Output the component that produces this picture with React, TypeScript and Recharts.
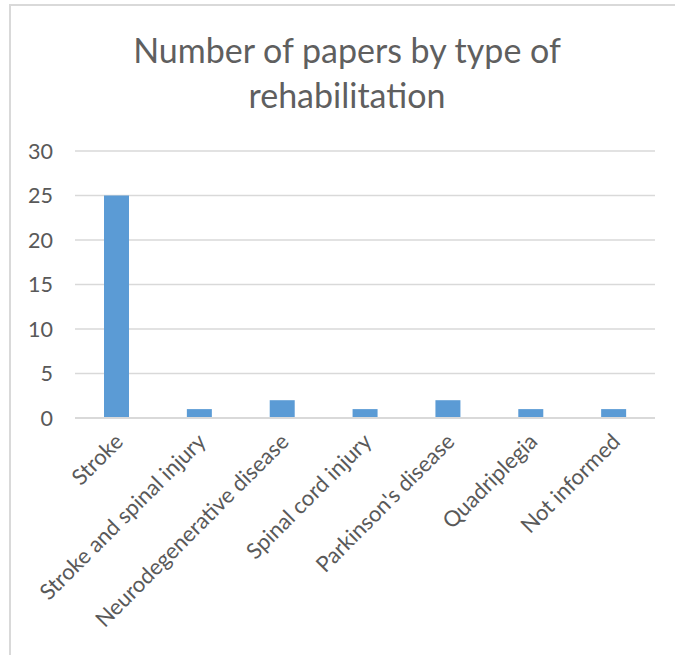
import React from 'react';
import { BarChart, Bar, XAxis, YAxis, CartesianGrid } from 'recharts';

const categories = [
  'Stroke',
  'Stroke and spinal injury',
  'Neurodegenerative disease',
  'Spinal cord injury',
  "Parkinson's disease",
  'Quadriplegia',
  'Not informed',
];
const papers = [25, 1, 2, 1, 2, 1, 1];
const yTicks = [0, 5, 10, 15, 20, 25, 30];
const titleLines = ['Number of papers by type of', 'rehabilitation'];

const data = categories.map((name, i) => ({ name, papers: papers[i] }));

const FONT = 'Lato, "Open Sans", sans-serif';
const TEXT = '#595959';

const RotatedTick = (props: any) => {
  const { x, y, payload } = props;
  return (
    <g transform={`translate(${x + 8},${y + 23}) rotate(-45)`}>
      <text x={0} y={0} textAnchor="end" fill={TEXT} fontSize={22} fontFamily={FONT}>
        {payload.value}
      </text>
    </g>
  );
};

const App: React.FC = () => {
  return (
    <div style={{ position: 'absolute', left: 0, top: 0, width: 675, height: 655, background: '#fff' }}>
      <div
        style={{
          position: 'absolute',
          left: 9,
          top: 4,
          right: 0,
          bottom: 0,
          borderTop: '2px solid #d9d9d9',
          borderLeft: '2px solid #d9d9d9',
        }}
      />
      <svg width={675} height={140} style={{ position: 'absolute', left: 0, top: 0 }}>
        {titleLines.map((line, i) => (
          <text key={i} x={347} y={63 + i * 45} textAnchor="middle" fill="#5f5f5f" fontSize={34} fontFamily={FONT}>
            {line}
          </text>
        ))}
      </svg>
      <div style={{ position: 'absolute', left: 0, top: 0 }}>
        <BarChart width={675} height={655} data={data} margin={{ top: 151, right: 20, bottom: 37, left: 0 }}>
          <CartesianGrid vertical={false} stroke="#d9d9d9" strokeWidth={1.5} />
          <XAxis
            dataKey="name"
            height={200}
            interval={0}
            tickLine={false}
            tickSize={0}
            axisLine={{ stroke: '#d9d9d9', strokeWidth: 2 }}
            tick={<RotatedTick />}
          />
          <YAxis
            width={75}
            domain={[0, 30]}
            ticks={yTicks}
            tickLine={false}
            tickSize={0}
            tickMargin={22}
            axisLine={false}
            tick={{ fill: TEXT, fontSize: 21.5, fontFamily: FONT }}
          />
          <Bar dataKey="papers" fill="#5b9bd5" barSize={25} isAnimationActive={false} />
        </BarChart>
      </div>
    </div>
  );
};

export default App;
